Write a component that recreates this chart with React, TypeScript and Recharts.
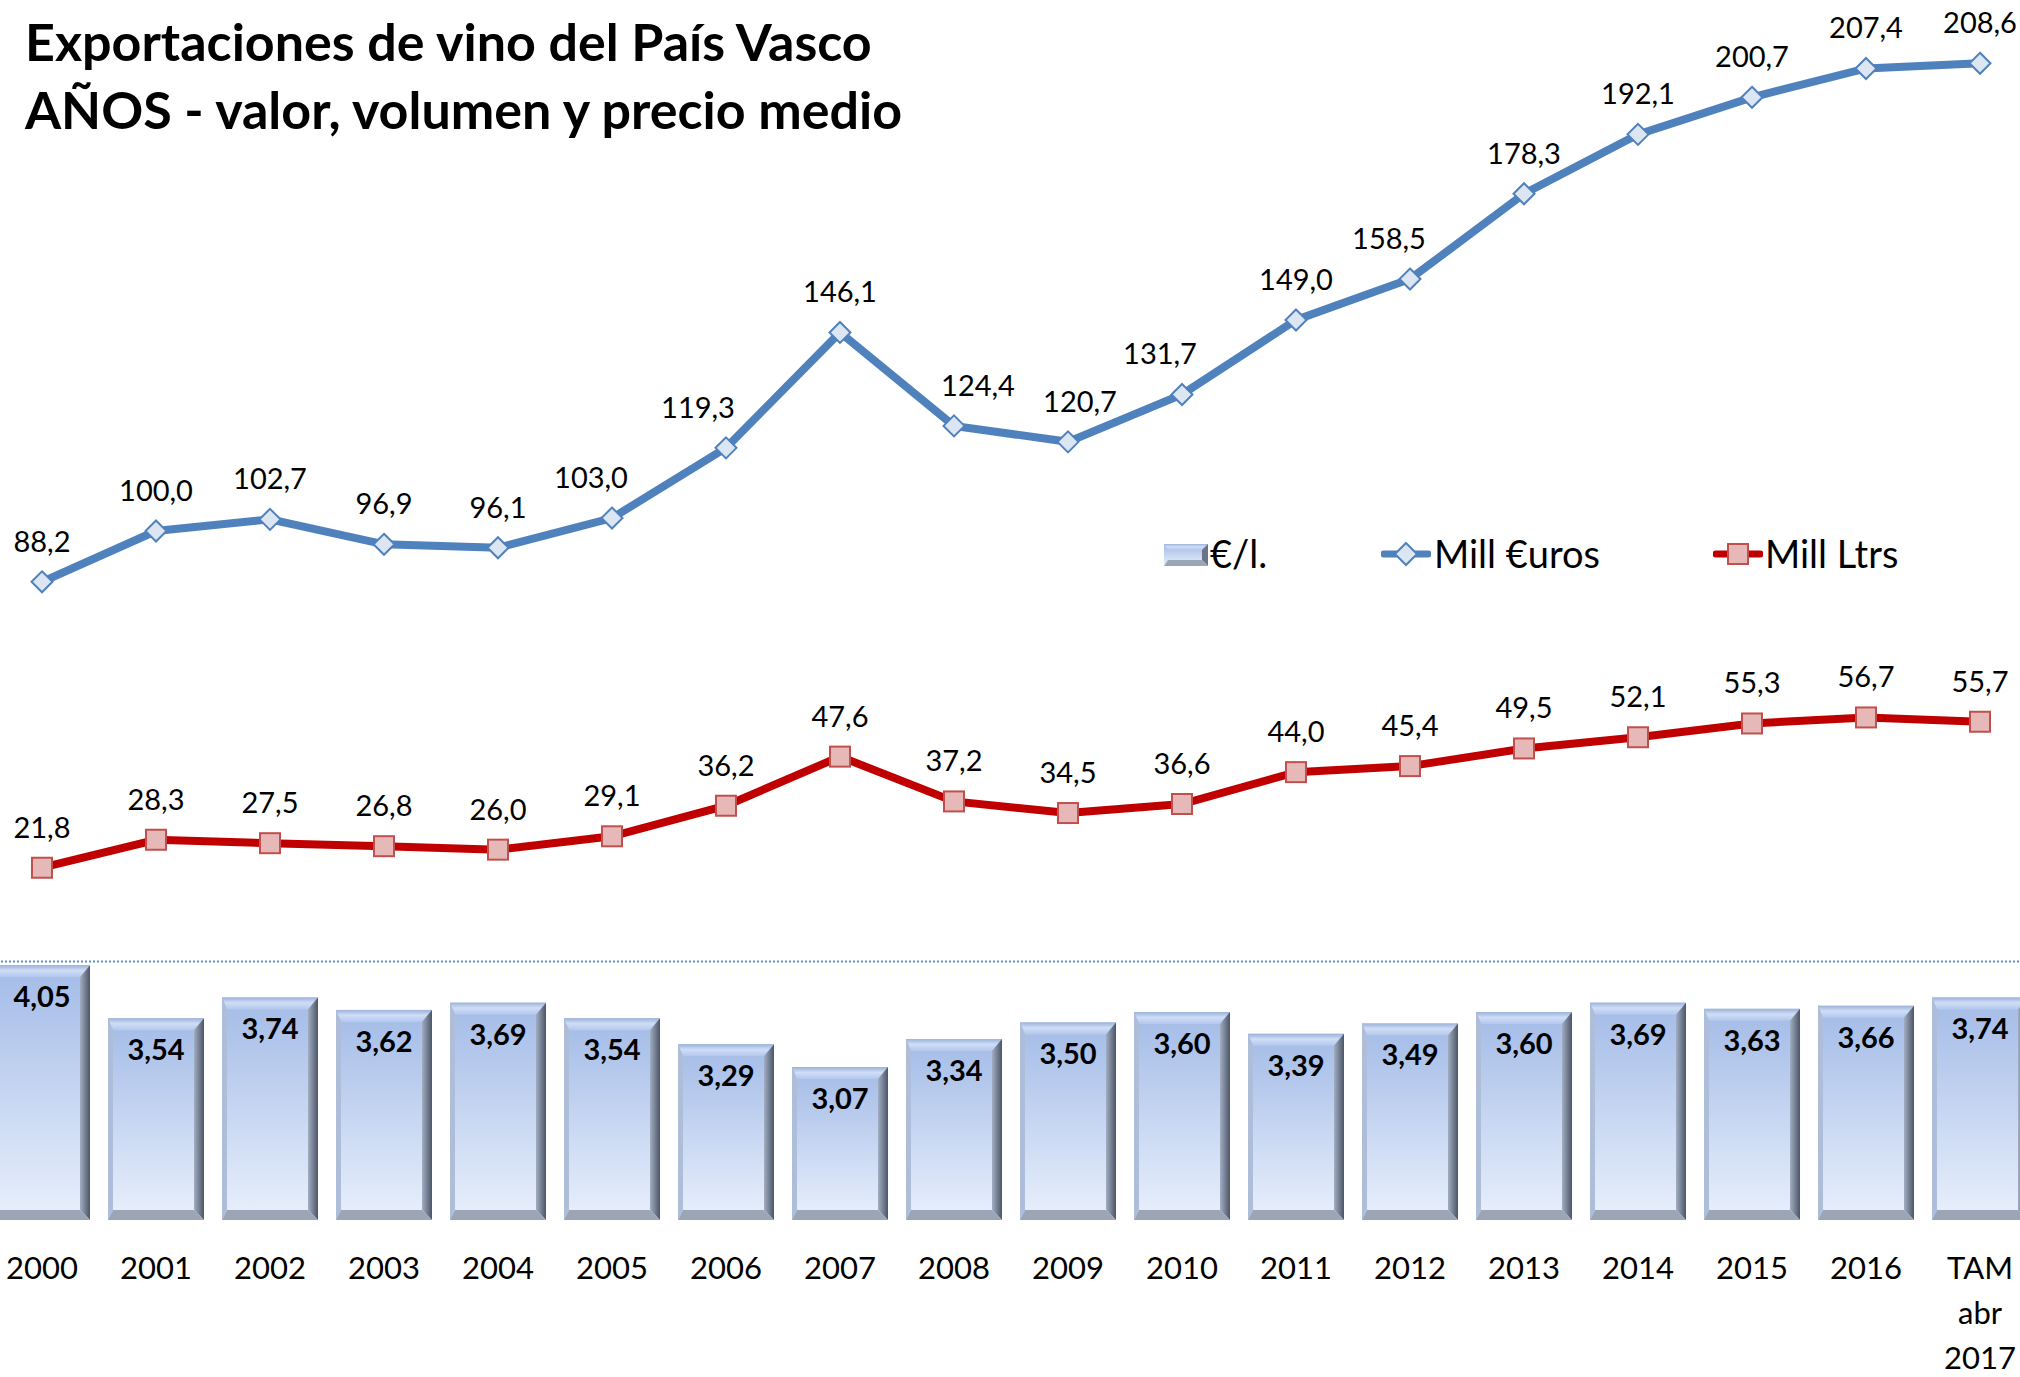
import { ComposedChart, Bar, Line, XAxis, YAxis, ReferenceLine, LabelList, Legend } from 'recharts';

const years = ['2000', '2001', '2002', '2003', '2004', '2005', '2006', '2007', '2008', '2009', '2010', '2011', '2012', '2013', '2014', '2015', '2016', 'TAM abr 2017'];
const millEuros = [88.2, 100.0, 102.7, 96.9, 96.1, 103.0, 119.3, 146.1, 124.4, 120.7, 131.7, 149.0, 158.5, 178.3, 192.1, 200.7, 207.4, 208.6];
const millLtrs = [21.8, 28.3, 27.5, 26.8, 26.0, 29.1, 36.2, 47.6, 37.2, 34.5, 36.6, 44.0, 45.4, 49.5, 52.1, 55.3, 56.7, 55.7];
const eurPorLitro = [4.05, 3.54, 3.74, 3.62, 3.69, 3.54, 3.29, 3.07, 3.34, 3.5, 3.6, 3.39, 3.49, 3.6, 3.69, 3.63, 3.66, 3.74];

const data = years.map((year, i) => ({
  year,
  euros: millEuros[i],
  ltrs: millLtrs[i],
  precio: eurPorLitro[i],
}));

const FONT = 'Lato, "Noto Sans", sans-serif';
const BLUE = '#4F81BD';
const RED = '#C00000';

// excel nudged a few of the €uros labels sideways so they clear the line
const eurosLabelNudge = [0, 0, 0, 0, 0, -21, -28, 0, 24, 12, -22, 0, -21, 0, 0, 0, 0, 0];

const fmt = (v: number, d: number) => v.toFixed(d).replace('.', ',');

// bevelled bar like the excel preset
const BevelBar = (props: any) => {
  const { x, y, width: w, height: h } = props;
  if (!h || h <= 0) return null;
  const b = 10;
  const bl = 5;
  return (
    <g>
      <rect x={x} y={y} width={w} height={h} fill="url(#barBody)" />
      <polygon points={`${x},${y} ${x + w},${y} ${x + w - b},${y + b + 2} ${x + bl},${y + b + 2}`} fill="url(#barTop)" />
      <polygon points={`${x},${y} ${x + bl},${y + b + 2} ${x + bl},${y + h - b} ${x},${y + h}`} fill="#AEBDD8" />
      <polygon points={`${x + w},${y} ${x + w},${y + h} ${x + w - b},${y + h - b} ${x + w - b},${y + b + 2}`} fill="url(#barRight)" />
      <polygon points={`${x},${y + h} ${x + w},${y + h} ${x + w - b},${y + h - b} ${x + bl},${y + h - b}`} fill="#9CA5B6" />
    </g>
  );
};

const Diamond = (props: any) => {
  const { cx, cy } = props;
  const r = 10.5;
  return (
    <polygon
      points={`${cx},${cy - r} ${cx + r},${cy} ${cx},${cy + r} ${cx - r},${cy}`}
      fill="#DCE6F2"
      stroke={BLUE}
      strokeWidth={2}
    />
  );
};

const Square = (props: any) => {
  const { cx, cy } = props;
  const s = 20;
  return <rect x={cx - s / 2} y={cy - s / 2} width={s} height={s} fill="#E6B9B8" stroke="#C0504D" strokeWidth={2} />;
};

const makeLineLabel = (nudge?: number[]) => (props: any) => {
  const { x, y, value, index } = props;
  const dx = nudge ? nudge[index] || 0 : 0;
  return (
    <text x={x + dx} y={y - 30} textAnchor="middle" fontFamily={FONT} fontSize={29} fill="#000">
      {fmt(value, 1)}
    </text>
  );
};

const barLabel = (props: any) => {
  const { x, y, width, value } = props;
  return (
    <text x={x + width / 2} y={y + 42} textAnchor="middle" fontFamily={FONT} fontSize={29} fontWeight={700} fill="#000">
      {fmt(value, 2)}
    </text>
  );
};

const YearTick = (props: any) => {
  const { x, payload } = props;
  const lines = String(payload.value).split(' ');
  return (
    <g>
      {lines.map((t, i) => (
        <text key={i} x={x} y={1279 + i * 45} textAnchor="middle" fontFamily={FONT} fontSize={31} fill="#000">
          {t}
        </text>
      ))}
    </g>
  );
};

const LegendBox = () => (
  <div style={{ position: 'relative', width: 760, height: 44, fontFamily: FONT, fontSize: 38, color: '#000' }}>
    <svg style={{ position: 'absolute', left: 0, top: 11 }} width={46} height={24}>
      <rect x={1} y={1} width={44} height={22} fill="url(#barBody)" />
      <polygon points="1,1 45,1 39,7 5,7" fill="url(#barTop)" />
      <polygon points="45,1 45,23 39,17 39,7" fill="#6B7486" />
      <polygon points="1,23 45,23 39,17 5,17" fill="#9CA5B6" />
    </svg>
    <span style={{ position: 'absolute', left: 47, top: -2, lineHeight: '46px' }}>€/l.</span>
    <svg style={{ position: 'absolute', left: 218, top: 9 }} width={50} height={26}>
      <line x1={3} y1={13} x2={47} y2={13} stroke={BLUE} strokeWidth={7} strokeLinecap="round" />
      <polygon points="25,2 36,13 25,24 14,13" fill="#DCE6F2" stroke={BLUE} strokeWidth={2} />
    </svg>
    <span style={{ position: 'absolute', left: 271, top: -2, lineHeight: '46px' }}>Mill €uros</span>
    <svg style={{ position: 'absolute', left: 550, top: 9 }} width={50} height={26}>
      <line x1={3} y1={13} x2={47} y2={13} stroke={RED} strokeWidth={7} strokeLinecap="round" />
      <rect x={15} y={3} width={20} height={20} fill="#E6B9B8" stroke="#C0504D" strokeWidth={2} />
    </svg>
    <span style={{ position: 'absolute', left: 602, top: -2, lineHeight: '46px' }}>Mill Ltrs</span>
  </div>
);

export default function App() {
  return (
    <div style={{ position: 'absolute', left: 0, top: 0, width: 2020, height: 1377, overflow: 'hidden', background: '#fff' }}>
      <svg width={0} height={0} style={{ position: 'absolute' }}>
        <defs>
          <linearGradient id="barBody" x1="0" y1="0" x2="0" y2="1">
            <stop offset="0%" stopColor="#A3BBE7" />
            <stop offset="100%" stopColor="#E9F0FC" />
          </linearGradient>
          <linearGradient id="barTop" x1="0" y1="0" x2="0" y2="1">
            <stop offset="0%" stopColor="#9DB2DA" />
            <stop offset="45%" stopColor="#CFDDF6" />
            <stop offset="100%" stopColor="#B3C8EE" />
          </linearGradient>
          <linearGradient id="barRight" x1="0" y1="0" x2="1" y2="0">
            <stop offset="0%" stopColor="#A2AEC4" />
            <stop offset="100%" stopColor="#4D5566" />
          </linearGradient>
        </defs>
      </svg>
      <div style={{ position: 'absolute', left: -15, top: 0 }}>
        <ComposedChart width={2052} height={1377} data={data} margin={{ top: 0, right: 0, bottom: 0, left: 0 }}>
          <XAxis dataKey="year" height={157} interval={0} axisLine={false} tickLine={false} tick={<YearTick />} />
          <YAxis yAxisId="val" hide domain={[-60, 223.3]} allowDataOverflow />
          <YAxis yAxisId="precio" hide domain={[1.6, 13.33]} allowDataOverflow />
          <ReferenceLine yAxisId="val" y={0} stroke="#5B8ED6" strokeWidth={2} strokeDasharray="2 2" />
          <Bar yAxisId="precio" dataKey="precio" name="€/l." barSize={96} shape={<BevelBar />} isAnimationActive={false}>
            <LabelList dataKey="precio" content={barLabel} />
          </Bar>
          <Line
            yAxisId="val"
            dataKey="euros"
            name="Mill €uros"
            stroke={BLUE}
            strokeWidth={8}
            dot={<Diamond />}
            activeDot={false}
            label={makeLineLabel(eurosLabelNudge)}
            isAnimationActive={false}
          />
          <Line
            yAxisId="val"
            dataKey="ltrs"
            name="Mill Ltrs"
            stroke={RED}
            strokeWidth={8}
            dot={<Square />}
            activeDot={false}
            label={makeLineLabel()}
            isAnimationActive={false}
          />
          <Legend
            layout="horizontal"
            verticalAlign="middle"
            align="center"
            content={<LegendBox />}
            wrapperStyle={{ position: 'absolute', left: 1178, top: 532, width: 760 }}
          />
        </ComposedChart>
      </div>
      <div
        style={{
          position: 'absolute',
          left: 25,
          top: 7,
          fontFamily: FONT,
          fontWeight: 700,
          fontSize: 52,
          lineHeight: '68px',
          color: '#000',
          whiteSpace: 'nowrap',
        }}
      >
        <div>Exportaciones de vino del País Vasco</div>
        <div>AÑOS - valor, volumen y precio medio</div>
      </div>
    </div>
  );
}
